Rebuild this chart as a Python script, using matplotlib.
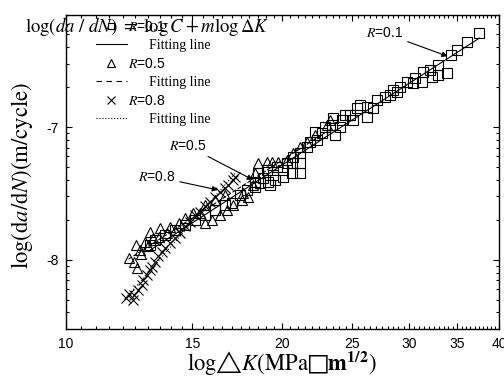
import numpy as np
import matplotlib
matplotlib.use("Agg")
import matplotlib.pyplot as plt
from matplotlib.ticker import FixedLocator, FuncFormatter, NullFormatter, LogLocator
from matplotlib.lines import Line2D

plt.rcParams['font.family'] = ['Liberation Sans', 'DejaVu Sans']
plt.rcParams['mathtext.fontset'] = 'stix'

# values, as log10(dK) and log10(da/dN)
logK_01 = [1.1177, 1.1247, 1.1385, 1.1524, 1.1662, 1.1801, 1.1939, 1.2078, 1.2216, 1.2313,
           1.2424, 1.2521, 1.2632, 1.2632, 1.2673, 1.2701, 1.2742, 1.2798, 1.2812, 1.2839,
           1.2881, 1.2909, 1.2936, 1.3019, 1.3019, 1.3075, 1.3144, 1.3144, 1.3158, 1.3255,
           1.3255, 1.3255, 1.3352, 1.3393, 1.3463, 1.3490, 1.3560, 1.3601, 1.3698, 1.3712,
           1.3740, 1.3809, 1.3837, 1.3878, 1.3947, 1.3989, 1.4044, 1.4086, 1.4183, 1.4183,
           1.4266, 1.4321, 1.4432, 1.4501, 1.4543, 1.4598, 1.4640, 1.4737, 1.4820, 1.4848,
           1.4945, 1.4958, 1.5055, 1.5083, 1.5166, 1.5166, 1.5291, 1.5360, 1.5443, 1.5582,
           1.5748]
logV_01 = [-7.887, -7.850, -7.812, -7.774, -7.737, -7.699, -7.662, -7.624, -7.586, -7.571,
           -7.511, -7.474, -7.451, -7.414, -7.346, -7.421, -7.383, -7.323, -7.414, -7.436,
           -7.361, -7.398, -7.301, -7.323, -7.376, -7.271, -7.271, -7.346, -7.226, -7.271,
           -7.346, -7.195, -7.150, -7.113, -7.038, -7.098, -7.045, -7.000, -6.985, -6.932,
           -7.060, -7.000, -6.947, -6.910, -6.910, -6.947, -6.857, -6.835, -6.850, -6.925,
           -6.857, -6.797, -6.774, -6.759, -6.722, -6.737, -6.699, -6.662, -6.669, -6.632,
           -6.662, -6.586, -6.571, -6.624, -6.609, -6.534, -6.594, -6.459, -6.421, -6.361,
           -6.293]

logK_05 = [1.0873, 1.0942, 1.0997, 1.0970, 1.1039, 1.1050, 1.1108, 1.1150, 1.1177, 1.1219,
           1.1300, 1.1316, 1.1413, 1.1450, 1.1524, 1.1580, 1.1662, 1.1773, 1.1870, 1.1939,
           1.1939, 1.2036, 1.2078, 1.2147, 1.2216, 1.2244, 1.2327, 1.2452, 1.2465, 1.2535,
           1.2604, 1.2632, 1.2673, 1.2798, 1.2867, 1.2950, 1.3075, 1.3158, 1.3255, 1.3352,
           1.3463, 1.3629, 1.3670]
logV_05 = [-7.985, -8.015, -8.060, -7.887, -7.925, -7.960, -7.865, -7.900, -7.789, -7.835,
           -7.830, -7.759, -7.797, -7.750, -7.774, -7.720, -7.684, -7.647, -7.647, -7.586,
           -7.722, -7.699, -7.549, -7.662, -7.511, -7.624, -7.586, -7.549, -7.496, -7.526,
           -7.436, -7.346, -7.271, -7.263, -7.263, -7.263, -7.248, -7.195, -7.150, -7.113,
           -7.060, -6.985, -6.947]

logK_08 = [1.0831, 1.0873, 1.0928, 1.0942, 1.1011, 1.1066, 1.1080, 1.1136, 1.1177, 1.1205,
           1.1247, 1.1288, 1.1343, 1.1385, 1.1454, 1.1524, 1.1593, 1.1662, 1.1731, 1.1801,
           1.1870, 1.1939, 1.2008, 1.2078, 1.2147, 1.2216, 1.2258, 1.2327, 1.2355]
logV_08 = [-8.286, -8.256, -8.301, -8.263, -8.226, -8.188, -8.150, -8.113, -8.075, -8.053,
           -8.015, -7.970, -7.940, -7.910, -7.872, -7.835, -7.800, -7.744, -7.714, -7.660,
           -7.639, -7.594, -7.564, -7.526, -7.489, -7.459, -7.436, -7.398, -7.376]

xticks = [10, 15, 20, 25, 30, 35, 40]

fig = plt.figure(figsize=(5.04, 3.79), dpi=100)
ax = fig.add_axes([0.1304, 0.1319, 0.8597, 0.8285])

series = [(logK_01, logV_01, 's', 7, '-'),
          (logK_05, logV_05, '^', 7.5, '--'),
          (logK_08, logV_08, 'x', 7, ':')]
for K, V, mk, ms, ls in series:
    K = np.array(K); V = np.array(V)
    ax.plot(10**K, 10**V, ls='none', marker=mk, ms=ms, mfc='none', mec='k', mew=0.8)
    p = np.polyfit(K, V, 1)
    xx = np.array([K.min(), K.max()])
    ax.plot(10**xx, 10**np.polyval(p, xx), color='k', ls=ls, lw=0.8)

ax.set_xscale('log')
ax.set_yscale('log')
ax.set_xlim(10, 40)
ax.set_ylim(3e-9, 7e-7)
ax.xaxis.set_major_locator(FixedLocator(xticks))
ax.xaxis.set_major_formatter(FuncFormatter(lambda v, p: f'{v:g}'))
ax.xaxis.set_minor_locator(FixedLocator(np.arange(10.5, 40, 0.5)))
ax.xaxis.set_minor_formatter(NullFormatter())
ax.yaxis.set_major_locator(LogLocator(base=10))
ax.yaxis.set_major_formatter(FuncFormatter(lambda v, p: f'{np.log10(v):.0f}'))
ax.yaxis.set_minor_locator(LogLocator(base=10, subs=range(2, 10)))
ax.yaxis.set_minor_formatter(NullFormatter())
ax.tick_params(which='both', direction='in', top=True, right=True, width=0.8, labelsize=10)
ax.tick_params(which='major', length=4.5)
ax.tick_params(which='minor', length=2.5)
ax.tick_params(axis='x', pad=6)
ax.tick_params(axis='y', pad=5)
for s in ax.spines.values():
    s.set_linewidth(1.0)

ax.set_xlabel('$\\mathrm{log}{\\bigtriangleup}K\\mathrm{(MPa}{\u25a1}\\mathbf{m}^{\\mathbf{1/2}}\\mathrm{)}$',
              fontsize=16.3, va='center')
ax.xaxis.set_label_coords(0.5, -0.112)
ax.set_ylabel(r'$\mathrm{log(d}a\mathrm{/d}N\mathrm{)(m/cycle)}$', fontsize=16.3, va='center')
ax.yaxis.set_label_coords(-0.101, 0.49)

# legend
handles = [Line2D([], [], ls='none', marker='s', ms=5, mfc='none', mec='k', mew=0.8),
           Line2D([], [], color='k', lw=0.8),
           Line2D([], [], ls='none', marker='^', ms=5.5, mfc='none', mec='k', mew=0.8),
           Line2D([], [], color='k', lw=0.8, dashes=(5, 4)),
           Line2D([], [], ls='none', marker='x', ms=5.5, mfc='none', mec='k', mew=0.8),
           Line2D([], [], color='k', lw=0.8, ls=':')]
labels = [r'$R$=0.1', '      Fitting line', r'$R$=0.5', '      Fitting line',
          r'$R$=0.8', '      Fitting line']
leg = ax.legend(handles, labels, loc='upper left', bbox_to_anchor=(0.07, 0.985),
                frameon=False, fontsize=10, handlelength=2.2, handletextpad=0.1,
                labelspacing=0.36, borderpad=0, borderaxespad=0)
for t in leg.get_texts()[1::2]:
    t.set_fontfamily('Liberation Serif')

fig.text(25/504, 1 - 27/379, r'$\log(da\ /\ dN)\ =\ \log C+m\log\Delta K$',
         fontsize=13.5, va='center', ha='left')

arrow = dict(arrowstyle='-|>', color='k', lw=0.8, mutation_scale=8, shrinkA=1, shrinkB=0)
ax.annotate(r'$R$=0.1', xy=(10**1.5305, 10**-6.466), xytext=(10**1.4435, 10**-6.293),
            fontsize=10, ha='center', va='center', arrowprops=arrow)
ax.annotate(r'$R$=0.5', xy=(10**1.2601, 10**-7.398), xytext=(10**1.1699, 10**-7.143),
            fontsize=10, ha='center', va='center', arrowprops=arrow)
ax.annotate(r'$R$=0.8', xy=(10**1.2115, 10**-7.474), xytext=(10**1.1268, 10**-7.376),
            fontsize=10, ha='center', va='center', arrowprops=arrow)

fig.savefig('out.png', dpi=100)
